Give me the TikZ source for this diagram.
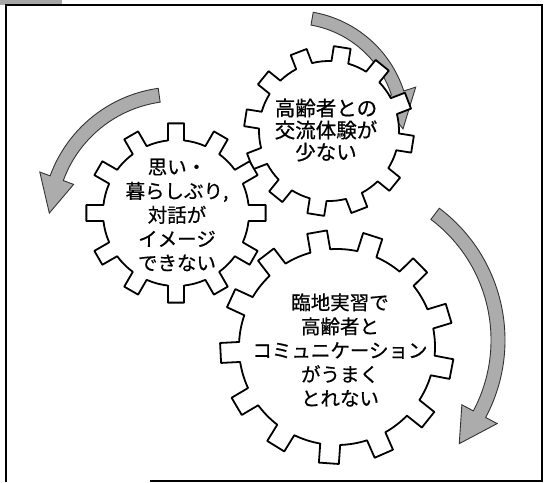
\documentclass[tikz,border=0pt]{standalone}
\usepackage{fontspec}
\newfontfamily\jp[FakeBold=0.6]{Noto Sans CJK JP}
\newcommand\drawgear[7]{% cx, cy, root r, tip R, n, phase, half tooth width
  \pgfmathsetmacro\gar{asin(#7/#3)}%
  \pgfmathsetmacro\gat{asin(#7/#4)}%
  \pgfmathsetmacro\gst{360/#5}%
  \pgfmathtruncatemacro\gnm{#5-1}%
  \path[gearline,shift={(#1,#2)}] ({#6-\gar}:#3)
   \foreach \i in {0,...,\gnm}{
     -- ({#6+\i*\gst-\gat}:#4) -- ({#6+\i*\gst+\gat}:#4) -- ({#6+\i*\gst+\gar}:#3)
     arc[start angle={#6+\i*\gst+\gar}, end angle={#6+(\i+1)*\gst-\gar}, radius=#3]
   } -- cycle;
}
\newcommand\cyclearrowpath[8]{% cx, cy, R, shaft half, start, head base, tip, head half
  \path[cyclearrow,shift={(#1,#2)}] ({#5}:{#3+#4})
    arc[start angle=#5, end angle=#6, radius={#3+#4}]
    -- ({#6}:{#3+#8}) -- ({#7}:{#3}) -- ({#6}:{#3-#8}) -- ({#6}:{#3-#4})
    arc[start angle=#6, end angle=#5, radius={#3-#4}] -- cycle;
}
\begin{document}
\begin{tikzpicture}[x=1pt,y=-1pt,
  gearline/.style={draw=black, line width=1.8pt, fill=white, line join=round},
  cyclearrow/.style={fill=gray!65, draw=black!80, line width=0.9pt, line join=miter},
  gtext/.style={align=center, inner sep=0pt, text=black}]
\useasboundingbox (0,0) rectangle (551,482);
\fill[white] (0,0) rectangle (551,482);
% frame
\fill[gray!70] (0,0) rectangle (62,5);
\draw[line width=2.5pt] (6,482) -- (6,5) -- (542,5) -- (542,481) -- (150,481);
% arrows
\cyclearrowpath{293}{127}{110}{6.5}{-80}{-18}{1}{19}
\cyclearrowpath{177}{222}{128}{7}{262}{200}{184}{18}
\cyclearrowpath{340}{340}{158}{7}{-53}{28}{41}{20}
% gears
\drawgear{329}{131}{70}{85}{12}{9}{8.5}
\drawgear{337}{347}{98}{117}{13}{94}{10}
\drawgear{176}{213}{73}{90}{12}{-90}{8}
% texts
\node[gtext, font=\jp\fontsize{20.5}{22}\selectfont] (t1) at (326,130) {高齢者との\\交流体験が\\少ない};
\node[gtext, font=\jp\fontsize{19.5}{24}\selectfont] (t2) at (177,215) {思い・\\暮らしぶり,\\対話が\\イメージ\\できない};
\node[gtext, font=\jp\fontsize{19.5}{24}\selectfont] (t3) at (340,350) {臨地実習で\\高齢者と\\コミュニケーション\\がうまく\\とれない};
\end{tikzpicture}
\end{document}
